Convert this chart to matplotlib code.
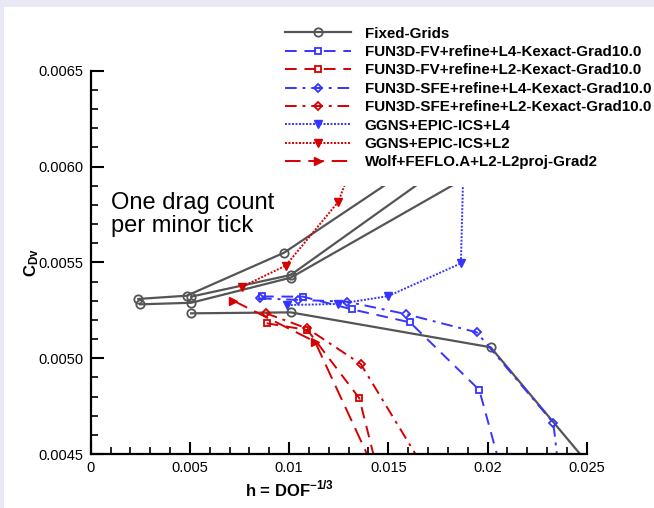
import matplotlib.pyplot as plt
from matplotlib.patches import Rectangle
from matplotlib.ticker import MultipleLocator

plt.rcParams['font.family'] = ['Liberation Sans', 'DejaVu Sans']
plt.rcParams['mathtext.fontset'] = 'custom'
plt.rcParams['mathtext.rm'] = 'Liberation Sans'
plt.rcParams['mathtext.bf'] = 'Liberation Sans:bold'

# Fixed-Grids (several grid families, one legend entry)
fixed_a_h = [0.0024, 0.00484, 0.00974, 0.0200]
fixed_a_c = [0.005309, 0.005326, 0.005550, 0.006261]
fixed_b_h = [0.00506, 0.01008, 0.0200]
fixed_b_c = [0.005321, 0.005434, 0.006167]
fixed_c_h = [0.00249, 0.00506, 0.01008, 0.0200]
fixed_c_c = [0.005281, 0.005289, 0.005420, 0.006006]
fixed_d_h = [0.00506, 0.01008, 0.02016, 0.0300]
fixed_d_c = [0.005234, 0.005239, 0.005057, 0.003840]

# FUN3D-FV
fv_l4_h = [0.008634, 0.010701, 0.013155, 0.016094, 0.019587, 0.021108]
fv_l4_c = [0.005322, 0.005321, 0.005255, 0.005187, 0.004834, 0.004260]
fv_l2_h = [0.008871, 0.010927, 0.013538, 0.014829]
fv_l2_c = [0.005182, 0.005147, 0.004791, 0.004260]

# FUN3D-SFE
sfe_l4_h = [0.008533, 0.010464, 0.012903, 0.015892, 0.019456, 0.023316, 0.02365]
sfe_l4_c = [0.005312, 0.005304, 0.005295, 0.005230, 0.005135, 0.004663, 0.004364]
sfe_l2_h = [0.008836, 0.010917, 0.013609, 0.017777]
sfe_l2_c = [0.005234, 0.005155, 0.004970, 0.004260]

# GGNS
ggns_l4_h = [0.009909, 0.01248, 0.0150, 0.01866, 0.01887]
ggns_l4_c = [0.005277, 0.005283, 0.005324, 0.005495, 0.006347]
ggns_l2_h = [0.007641, 0.009829, 0.01248, 0.01442]
ggns_l2_c = [0.005373, 0.005483, 0.005816, 0.006347]

# Wolf
wolf_h = [0.007187, 0.011305, 0.0150]
wolf_c = [0.005300, 0.005086, 0.004260]

x_ticks = [0, 0.005, 0.01, 0.015, 0.02, 0.025]
x_labels = ['0', '0.005', '0.01', '0.015', '0.02', '0.025']
y_ticks = [0.0045, 0.0050, 0.0055, 0.0060, 0.0065]
y_labels = ['0.0045', '0.0050', '0.0055', '0.0060', '0.0065']

gray = '#555555'
blue = '#3535ff'
red = '#d60000'

fig = plt.figure(figsize=(6.54, 5.08), dpi=100)
fig.patch.set_facecolor('white')
# lavender border strips (top and left)
fig.patches.append(Rectangle((0, 1 - 7 / 508), 1, 7 / 508, transform=fig.transFigure,
                             facecolor='#e9e9f6', edgecolor='none'))
fig.patches.append(Rectangle((0, 0), 4 / 654, 1, transform=fig.transFigure,
                             facecolor='#e9e9f6', edgecolor='none'))
ax = fig.add_axes([90.7 / 654, 1 - 454 / 508, 496 / 654, 383.3 / 508])
ax.set_facecolor('none')

gk = dict(color=gray, lw=1.6, marker='o', ms=6, mfc='none', mew=1.3)
ax.plot(fixed_a_h, fixed_a_c, label='Fixed-Grids', **gk)
ax.plot(fixed_b_h, fixed_b_c, **gk)
ax.plot(fixed_c_h, fixed_c_c, **gk)
ax.plot(fixed_d_h, fixed_d_c, **gk)

ax.plot(fv_l4_h, fv_l4_c, color=blue, lw=1.4, dashes=(6, 4), marker='s', ms=5,
        mfc='none', mew=1.3, label='FUN3D-FV+refine+L4-Kexact-Grad10.0')
ax.plot(fv_l2_h, fv_l2_c, color=red, lw=1.4, dashes=(6, 4), marker='s', ms=5,
        mfc='none', mew=1.3, label='FUN3D-FV+refine+L2-Kexact-Grad10.0')
ax.plot(sfe_l4_h, sfe_l4_c, color=blue, lw=1.4, dashes=(6, 3, 1.5, 3), marker='D', ms=4.5,
        mfc='none', mew=1.3, label='FUN3D-SFE+refine+L4-Kexact-Grad10.0')
ax.plot(sfe_l2_h, sfe_l2_c, color=red, lw=1.4, dashes=(6, 3, 1.5, 3), marker='D', ms=4.5,
        mfc='none', mew=1.3, label='FUN3D-SFE+refine+L2-Kexact-Grad10.0')
ax.plot(ggns_l4_h, ggns_l4_c, color=blue, lw=1.4, dashes=(1, 0.8), marker='v', ms=6,
        label='GGNS+EPIC-ICS+L4')
ax.plot(ggns_l2_h, ggns_l2_c, color=red, lw=1.4, dashes=(1, 0.8), marker='v', ms=6,
        label='GGNS+EPIC-ICS+L2')
ax.plot(wolf_h, wolf_c, color=red, lw=1.4, dashes=(8, 4), marker='>', ms=6,
        label='Wolf+FEFLO.A+L2-L2proj-Grad2')

ax.set_xlim(0, 0.025)
ax.set_ylim(0.0045, 0.0065)
ax.set_xticks(x_ticks)
ax.set_xticklabels(x_labels)
ax.set_yticks(y_ticks)
ax.set_yticklabels(y_labels)
ax.xaxis.set_minor_locator(MultipleLocator(0.001))
ax.yaxis.set_minor_locator(MultipleLocator(0.0001))
ax.tick_params(which='major', direction='in', length=9, width=1.5, labelsize=10.5, pad=5)
ax.tick_params(which='minor', direction='in', length=5, width=1.2)
for s in ['top', 'right']:
    ax.spines[s].set_visible(False)
for s in ['left', 'bottom']:
    ax.spines[s].set_linewidth(1.6)

ax.set_xlabel(r'h = DOF$^{\mathbf{-1/3}}$', fontsize=12, fontweight='bold')
ax.xaxis.set_label_coords(0.4, -0.065)
ax.set_ylabel(r'$\mathbf{C_{Dv}}$', fontsize=12)
ax.yaxis.set_label_coords(-0.100, 0.5)

ax.text(0.04, 0.683, 'One drag count\nper minor tick', transform=ax.transAxes,
        fontsize=17, va='top', ha='left', linespacing=1.05)

leg = ax.legend(loc='upper left', bbox_to_anchor=(268 / 654, 1 - 10 / 508),
                bbox_transform=fig.transFigure, prop={'weight': 'bold', 'size': 10.9},
                handlelength=4.4, handletextpad=0.88, labelspacing=0.29,
                borderpad=1.1, borderaxespad=0, numpoints=1,
                frameon=True, fancybox=False, framealpha=1)
leg.get_frame().set_facecolor('white')
leg.get_frame().set_edgecolor('none')

fig.savefig('out.png', dpi=100)
